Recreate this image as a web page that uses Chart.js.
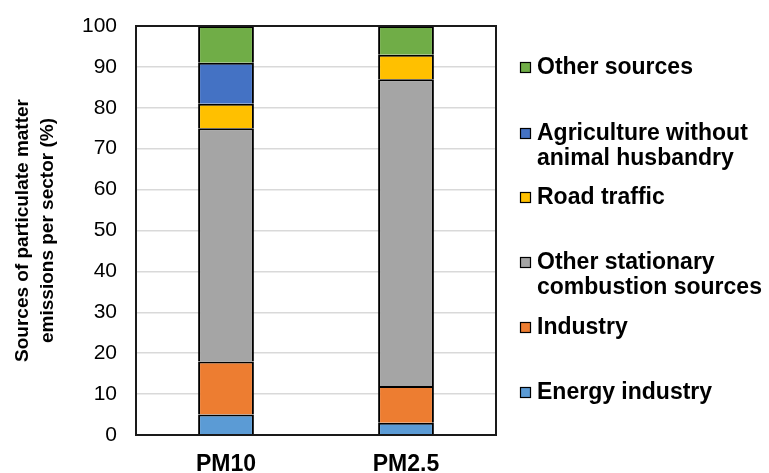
<!DOCTYPE html>
<html>
<head>
<meta charset="utf-8">
<script src="https://cdn.jsdelivr.net/npm/chart.js@4/dist/chart.umd.min.js"></script>
<style>
  html, body { margin: 0; padding: 0; background: #fff; }
  #wrap { width: 769px; height: 473px; position: relative; }
</style>
</head>
<body>
<div id="wrap"><canvas id="c" width="769" height="473"></canvas></div>
<script>
// Particulate matter emission sources, share per sector (%)
const categories = ['PM10', 'PM2.5'];

const energyIndustry      = [5, 3];
const industry            = [13, 9];
const otherStationary     = [57, 75];
const roadTraffic         = [6, 6];
const agriculture         = [10, 0];
const otherSources        = [9, 7];

const yTicks = [0, 10, 20, 30, 40, 50, 60, 70, 80, 90, 100];

const FONT = '"Liberation Sans", Arial, sans-serif';

const datasets = [
  { label: 'Energy industry', data: energyIndustry, backgroundColor: '#5b9bd5' },
  { label: 'Industry', data: industry, backgroundColor: '#ed7d31' },
  { label: ['Other stationary', 'combustion sources'], data: otherStationary, backgroundColor: '#a5a5a5' },
  { label: 'Road traffic', data: roadTraffic, backgroundColor: '#ffc000' },
  { label: ['Agriculture without', 'animal husbandry'], data: agriculture, backgroundColor: '#4472c4' },
  { label: 'Other sources', data: otherSources, backgroundColor: '#70ad47' }
].map(d => Object.assign(d, {
  borderColor: '#000',
  borderWidth: 2,
  barPercentage: 0.31,
  categoryPercentage: 1.0
}));

// Legend on the right, listed top to bottom in reverse stacking order
const sideLegend = {
  id: 'sideLegend',
  afterDraw(chart) {
    const ctx = chart.ctx;
    const rows = [
      { i: 5, y: 67 },
      { i: 4, y: 133 },
      { i: 3, y: 197 },
      { i: 2, y: 262 },
      { i: 1, y: 327 },
      { i: 0, y: 392 }
    ];
    ctx.save();
    ctx.font = 'bold 23px ' + FONT;
    ctx.textBaseline = 'middle';
    ctx.textAlign = 'left';
    rows.forEach(r => {
      const ds = chart.data.datasets[r.i];
      ctx.fillStyle = ds.backgroundColor;
      ctx.fillRect(520, r.y - 5, 11, 11);
      ctx.strokeStyle = '#000';
      ctx.lineWidth = 1.2;
      ctx.strokeRect(520.5, r.y - 4.5, 10, 10);
      ctx.fillStyle = '#000';
      const lines = Array.isArray(ds.label) ? ds.label : [ds.label];
      lines.forEach((t, k) => ctx.fillText(t, 537, r.y + 1 + k * 25));
    });
    ctx.restore();
  }
};

// Frame around the plot area
const plotFrame = {
  id: 'plotFrame',
  afterDatasetsDraw(chart) {
    const a = chart.chartArea;
    const ctx = chart.ctx;
    ctx.save();
    ctx.strokeStyle = '#1a1a1a';
    ctx.lineWidth = 2;
    ctx.strokeRect(a.left, a.top, a.right - a.left, a.bottom - a.top);
    ctx.restore();
  }
};

new Chart(document.getElementById('c'), {
  type: 'bar',
  data: { labels: categories, datasets },
  options: {
    responsive: false,
    animation: false,
    layout: { padding: { left: 0, top: 26, right: 273, bottom: 0 } },
    plugins: {
      legend: { display: false },
      tooltip: { enabled: false }
    },
    scales: {
      x: {
        stacked: true,
        grid: { display: false, drawTicks: false },
        border: { display: false },
        ticks: { color: '#000', font: { family: FONT, size: 23, weight: 'bold' }, padding: 16 },
        afterFit(s) { s.height = 38; }
      },
      y: {
        stacked: true,
        min: 0,
        max: 100,
        afterBuildTicks(s) { s.ticks = yTicks.map(v => ({ value: v })); },
        grid: {
          color: '#d9d9d9',
          lineWidth: 1.5,
          drawTicks: true,
          tickLength: 19,
          tickColor: 'rgba(0,0,0,0)'
        },
        border: { display: false },
        ticks: { color: '#000', font: { family: FONT, size: 21 }, padding: 0 },
        title: {
          display: true,
          text: ['Sources of particulate matter', 'emissions per sector (%)'],
          color: '#000',
          font: { family: FONT, size: 19, weight: 'bold', lineHeight: 1.32 },
          padding: { top: 10, bottom: 0 }
        },
        afterFit(s) { s.width = 136; }
      }
    }
  },
  plugins: [plotFrame, sideLegend]
});
</script>
</body>
</html>
